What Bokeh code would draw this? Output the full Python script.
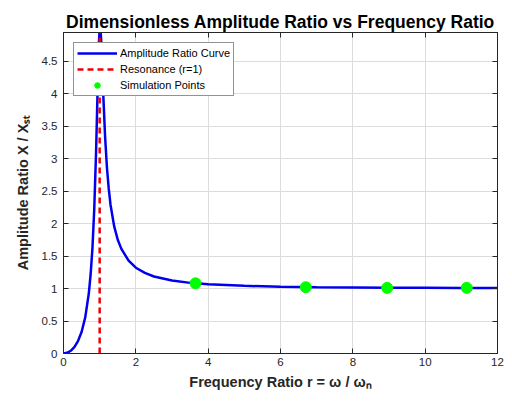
from bokeh.plotting import figure
from bokeh.models import Range1d, LinearAxis, FixedTicker, Legend, LegendItem, CustomLabelingPolicy
from bokeh.embed import file_html
from bokeh.resources import INLINE

# data
r_curve = [0, 0.1, 0.2, 0.3, 0.4, 0.5, 0.6, 0.7, 0.75, 0.8, 0.85, 0.9, 0.93, 0.95, 0.96, 0.98,
           1.0, 1.02, 1.04, 1.05, 1.07, 1.1, 1.15, 1.2, 1.25, 1.3, 1.4, 1.5, 1.6, 1.8, 2.0,
           2.25, 2.5, 3.0, 3.5, 4.0, 5.0, 6.0, 7.0, 8.0, 9.0, 10.0, 11.0, 12.0]
amp_curve = [0, 0.010, 0.042, 0.099, 0.19, 0.33, 0.553, 0.926, 1.216, 1.62, 2.22, 3.09, 3.76, 4.23, 4.44, 4.80,
             5.0, 5.0, 4.84, 4.72, 4.43, 3.98, 3.34, 2.87, 2.54, 2.29, 1.96, 1.75, 1.61, 1.43, 1.32,
             1.242, 1.185, 1.122, 1.087, 1.065, 1.041, 1.028, 1.020, 1.016, 1.012, 1.010, 1.008, 1.007]
r_sim = [3.65, 6.7, 8.95, 11.15]
amp_sim = [1.08, 1.02, 1.01, 1.01]
r_res = [1, 1]
y_top = 4.94
res_y = [0, y_top]
x_ticks = [0, 2, 4, 6, 8, 10, 12]
y_ticks = [0, 0.5, 1, 1.5, 2, 2.5, 3, 3.5, 4, 4.5]

FONT = "Liberation Sans"
TXT = "#262626"

p = figure(width=512, height=401, output_backend="svg", toolbar_location=None,
           x_range=Range1d(0, 12), y_range=Range1d(0, y_top),
           min_border_left=63, min_border_right=15, min_border_top=32, min_border_bottom=48)
p.background_fill_color = "white"
p.border_fill_color = "white"
p.outline_line_color = "#262626"
p.outline_line_width = 1

p.title.text = "Dimensionless Amplitude Ratio vs Frequency Ratio"
p.title.text_font = FONT
p.title.text_font_size = "17.5px"
p.title.text_font_style = "bold"
p.title.align = "center"
p.title.vertical_align = "middle"
p.title.text_color = "black"
p.title.offset = 0
p.title.standoff = 0

l1 = p.line(r_curve, amp_curve, line_color="#0000ee", line_width=2.5)
l2 = p.line(r_res, res_y, line_color="#ee0000", line_width=2.5, line_dash="6 4")
c1 = p.scatter(r_sim, amp_sim, size=11, fill_color="#00ff00", line_color="#00ff00")

for ax in (p.xaxis[0], p.yaxis[0]):
    ax.major_tick_in = 5
    ax.major_tick_out = 0
    ax.minor_tick_line_color = None
    ax.axis_line_color = "#262626"
    ax.major_tick_line_color = "#262626"
    ax.major_label_text_font = FONT
    ax.major_label_text_font_size = "11.5px"
    ax.major_label_text_color = TXT
    ax.axis_label_text_font = FONT
    ax.axis_label_text_font_size = "14.5px"
    ax.axis_label_text_font_style = "bold"
    ax.axis_label_text_color = TXT

p.xaxis[0].ticker = FixedTicker(ticks=x_ticks)
p.yaxis[0].ticker = FixedTicker(ticks=y_ticks)
p.xaxis[0].axis_label = "Frequency Ratio r = \u03c9 / \u03c9\u2099"
p.yaxis[0].axis_label = "Amplitude Ratio X / X\u209b\u209c"
p.xaxis[0].major_label_standoff = 4
p.yaxis[0].major_label_standoff = 6
p.xaxis[0].axis_label_standoff = 5
p.yaxis[0].axis_label_standoff = 8

hide_labels = "for (const i of indices) { indices.unset(i) }\nreturn indices"
common = dict(major_label_policy=CustomLabelingPolicy(code=hide_labels),
              major_label_text_font_size="0px", major_label_standoff=0,
              major_tick_in=5, major_tick_out=0, minor_tick_line_color=None,
              axis_line_color="#262626", major_tick_line_color="#262626")
top_ax = LinearAxis(ticker=FixedTicker(ticks=x_ticks), **common)
common["major_label_policy"] = CustomLabelingPolicy(code=hide_labels)
right_ax = LinearAxis(ticker=FixedTicker(ticks=y_ticks), **common)
p.add_layout(top_ax, "above")
p.add_layout(right_ax, "right")

p.xgrid.ticker = FixedTicker(ticks=x_ticks)
p.ygrid.ticker = FixedTicker(ticks=y_ticks)
p.grid.grid_line_color = "#dcdcdc"
p.grid.grid_line_width = 1

legend = Legend(items=[
    LegendItem(label="Amplitude Ratio Curve", renderers=[l1]),
    LegendItem(label="Resonance (r=1)", renderers=[l2]),
    LegendItem(label="Simulation Points", renderers=[c1]),
], location="top_left")
legend.label_text_font = FONT
legend.label_text_font_size = "11px"
legend.label_text_color = "black"
legend.border_line_color = "#262626"
legend.border_line_width = 1
legend.background_fill_alpha = 1
legend.glyph_width = 40
legend.glyph_height = 14
legend.label_height = 14
legend.spacing = 2
legend.padding = 3
legend.margin = 10
legend.label_standoff = 3
p.add_layout(legend)

open("out.html", "w").write(file_html(p, INLINE))
